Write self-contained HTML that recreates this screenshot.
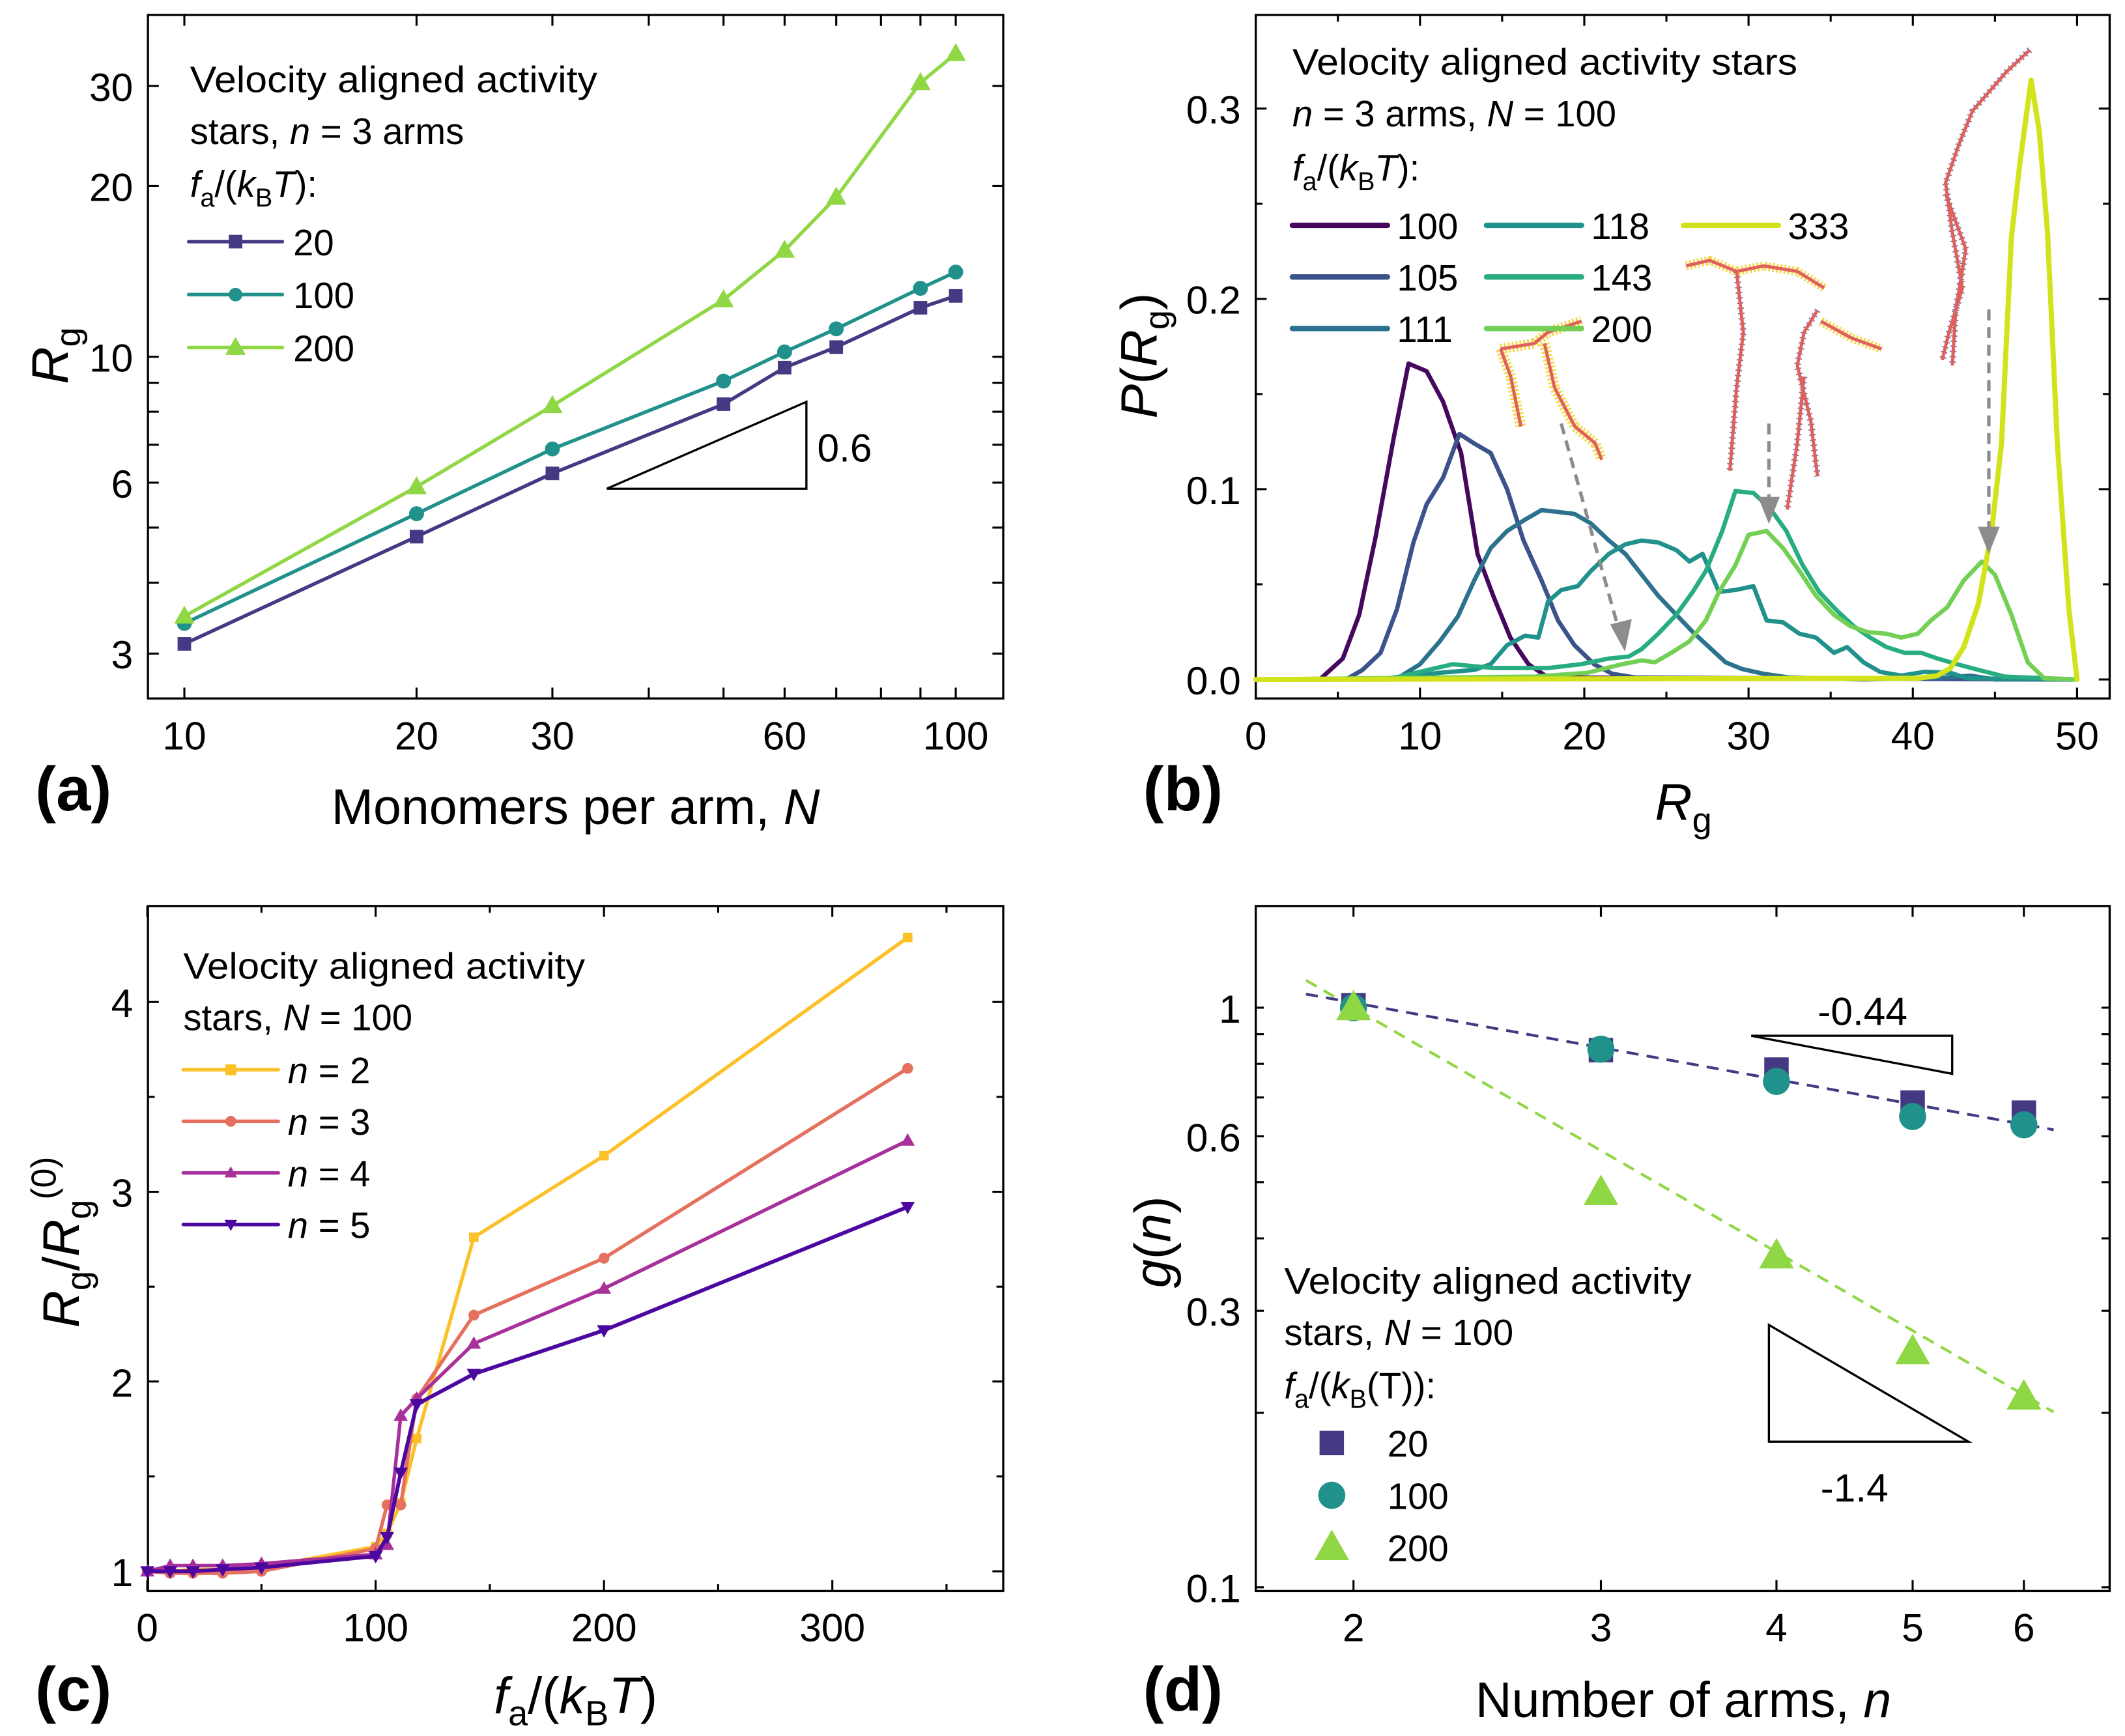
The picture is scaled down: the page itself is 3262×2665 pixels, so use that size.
<!DOCTYPE html>
<html><head><meta charset="utf-8"><style>
html,body{margin:0;padding:0;background:#fff;}
svg{display:block;font-family:"Liberation Sans",sans-serif;}
text{fill:#000;}
</style></head><body>
<svg id="fig" xmlns="http://www.w3.org/2000/svg" width="3262" height="2665" viewBox="0 0 1565.3 1278.8">
<rect x="0" y="0" width="1565.3" height="1278.8" fill="#fff"/>
<rect x="109" y="11" width="630" height="503.5" fill="none" stroke="#000" stroke-width="1.6"/>
<rect x="925" y="11" width="629" height="503.5" fill="none" stroke="#000" stroke-width="1.6"/>
<rect x="109" y="667.4" width="630" height="504.6" fill="none" stroke="#000" stroke-width="1.6"/>
<rect x="925" y="667.4" width="629" height="504.6" fill="none" stroke="#000" stroke-width="1.6"/>
<g id="ticks"></g>

<!-- Snapshots in panel b -->
<g transform="translate(782.6,0) scale(0.4966,0.408)" fill="none" stroke-linejoin="round">
<g stroke="#f2d530" stroke-dasharray="3 3" opacity="0.85">
<polyline vector-effect="non-scaling-stroke" stroke-width="16" points="650,630 665,680 680,770"/>
<polyline vector-effect="non-scaling-stroke" stroke-width="16" points="650,630 700,620 720,600 770,580"/>
<polyline vector-effect="non-scaling-stroke" stroke-width="16" points="715,620 730,700 760,770 790,800 800,830"/>
<polyline vector-effect="non-scaling-stroke" stroke-width="14" points="925,480 960,470 1000,490 1040,480 1090,490 1130,520"/>
<polyline vector-effect="non-scaling-stroke" stroke-width="14" points="1125,580 1170,610 1215,630"/>
</g>
<g stroke="#3b3f8f" stroke-dasharray="2 6" opacity="0.7">
<polyline vector-effect="non-scaling-stroke" stroke-width="10" points="1000,490 1010,600 1000,700 990,850"/>
<polyline vector-effect="non-scaling-stroke" stroke-width="10" points="1120,560 1100,600 1090,660 1110,760 1120,860"/>
<polyline vector-effect="non-scaling-stroke" stroke-width="10" points="1100,680 1090,800 1075,920"/>
<polyline vector-effect="non-scaling-stroke" stroke-width="10" points="1435,90 1400,130 1350,200 1330,260 1310,330 1320,420 1335,520 1315,600 1305,650"/>
<polyline vector-effect="non-scaling-stroke" stroke-width="10" points="1310,350 1340,450 1325,560 1320,660"/>
</g>
<g stroke="#e0605a">
<polyline vector-effect="non-scaling-stroke" stroke-width="5" points="650,630 665,680 680,770"/>
<polyline vector-effect="non-scaling-stroke" stroke-width="5" points="650,630 700,620 720,600 770,580"/>
<polyline vector-effect="non-scaling-stroke" stroke-width="5" points="715,620 730,700 760,770 790,800 800,830"/>
<polyline vector-effect="non-scaling-stroke" stroke-width="5" points="925,480 960,470 1000,490 1040,480 1090,490 1130,520"/>
<polyline vector-effect="non-scaling-stroke" stroke-width="5" points="1000,490 1010,600 1000,700 990,850"/>
<polyline vector-effect="non-scaling-stroke" stroke-width="5" points="1120,560 1100,600 1090,660 1110,760 1120,860"/>
<polyline vector-effect="non-scaling-stroke" stroke-width="5" points="1125,580 1170,610 1215,630"/>
<polyline vector-effect="non-scaling-stroke" stroke-width="5" points="1100,680 1090,800 1075,920"/>
<polyline vector-effect="non-scaling-stroke" stroke-width="5" points="1435,90 1400,130 1350,200 1330,260 1310,330 1320,420 1335,520 1315,600 1305,650"/>
<polyline vector-effect="non-scaling-stroke" stroke-width="5" points="1310,350 1340,450 1325,560 1320,660"/>
</g>
</g>

<g id="plots"></g>

<text x="26" y="597" font-size="46" font-weight="bold">(a)</text>
<text x="842" y="597" font-size="46" font-weight="bold">(b)</text>
<text x="26" y="1260" font-size="46" font-weight="bold">(c)</text>
<text x="842" y="1260" font-size="46" font-weight="bold">(d)</text>

<text x="424" y="607" font-size="37" text-anchor="middle">Monomers per arm, <tspan font-style="italic">N</tspan></text>
<text transform="translate(50,262) rotate(-90)" font-size="38" text-anchor="middle"><tspan font-style="italic">R</tspan><tspan font-size="26" dy="9">g</tspan></text>
<text x="1240" y="604" font-size="38" text-anchor="middle"><tspan font-style="italic">R</tspan><tspan font-size="26" dy="9">g</tspan></text>
<text transform="translate(852,262) rotate(-90)" font-size="38" text-anchor="middle"><tspan font-style="italic">P</tspan>(<tspan font-style="italic">R</tspan><tspan font-size="26" dy="9">g</tspan><tspan dy="-9">)</tspan></text>
<text x="424" y="1262" font-size="38" text-anchor="middle"><tspan font-style="italic">f</tspan><tspan font-size="26" dy="9">a</tspan><tspan dy="-9">/(</tspan><tspan font-style="italic">k</tspan><tspan font-size="26" dy="9">B</tspan><tspan dy="-9" font-style="italic">T</tspan>)</text>
<text transform="translate(58,915) rotate(-90)" font-size="38" text-anchor="middle"><tspan font-style="italic">R</tspan><tspan font-size="26" dy="9">g</tspan><tspan dy="-9">/</tspan><tspan font-style="italic">R</tspan><tspan font-size="26" dy="9">g</tspan><tspan font-size="26" dy="-26">(0)</tspan></text>
<text x="1240" y="1265" font-size="37" text-anchor="middle">Number of arms, <tspan font-style="italic">n</tspan></text>
<text transform="translate(862,915) rotate(-90)" font-size="38" text-anchor="middle"><tspan font-style="italic">g</tspan>(<tspan font-style="italic">n</tspan>)</text>

<g font-size="27">
<text x="140" y="68" textLength="300" lengthAdjust="spacingAndGlyphs">Velocity aligned activity</text>
<text x="140" y="106">stars, <tspan font-style="italic">n</tspan> = 3 arms</text>
<text x="140" y="145"><tspan font-style="italic">f</tspan><tspan font-size="19" dy="7">a</tspan><tspan dy="-7">/(</tspan><tspan font-style="italic">k</tspan><tspan font-size="19" dy="7">B</tspan><tspan dy="-7" font-style="italic">T</tspan>):</text>
</g>
<g font-size="27">
<text x="952" y="55" textLength="372" lengthAdjust="spacingAndGlyphs">Velocity aligned activity stars</text>
<text x="952" y="93"><tspan font-style="italic">n</tspan> = 3 arms, <tspan font-style="italic">N</tspan> = 100</text>
<text x="952" y="133"><tspan font-style="italic">f</tspan><tspan font-size="19" dy="7">a</tspan><tspan dy="-7">/(</tspan><tspan font-style="italic">k</tspan><tspan font-size="19" dy="7">B</tspan><tspan dy="-7" font-style="italic">T</tspan>):</text>
</g>
<g font-size="27">
<text x="135" y="721" textLength="296" lengthAdjust="spacingAndGlyphs">Velocity aligned activity</text>
<text x="135" y="759">stars, <tspan font-style="italic">N</tspan> = 100</text>
</g>
<g font-size="27">
<text x="946" y="953" textLength="300" lengthAdjust="spacingAndGlyphs">Velocity aligned activity</text>
<text x="946" y="991">stars, <tspan font-style="italic">N</tspan> = 100</text>
<text x="946" y="1030"><tspan font-style="italic">f</tspan><tspan font-size="19" dy="7">a</tspan><tspan dy="-7">/(</tspan><tspan font-style="italic">k</tspan><tspan font-size="19" dy="7">B</tspan><tspan dy="-7">(T)):</tspan></text>
</g>

<polygon points="447,360 594,360 594,296" fill="none" stroke="#000" stroke-width="1.6"/>
<text x="602" y="340" font-size="29">0.6</text>
<polygon points="1290,763 1438,763 1438,791" fill="none" stroke="#000" stroke-width="1.6"/>
<text x="1372" y="755" font-size="29" text-anchor="middle">-0.44</text>
<polygon points="1303,976 1303,1062 1450,1062" fill="none" stroke="#000" stroke-width="1.6"/>
<text x="1366" y="1106" font-size="29" text-anchor="middle">-1.4</text>

<g stroke="#8c8c8c" stroke-width="2.5" stroke-dasharray="8 5">
<line x1="1150" y1="312" x2="1193" y2="466"/>
<line x1="1303" y1="312" x2="1303" y2="372"/>
<line x1="1465" y1="228" x2="1465" y2="394"/>
</g>
<g fill="#8c8c8c">
<polygon points="1197,480 1186,460 1202,456"/>
<polygon points="1303,386 1295,366 1311,366"/>
<polygon points="1465,408 1457,388 1473,388"/>
</g>
</svg>
<script>
const aN = [10, 20, 30, 50, 60, 70, 90, 100];
const aRg20 = [3.12, 4.82, 6.23, 8.25, 9.57, 10.4, 12.2, 12.8];
const aRg100 = [3.39, 5.29, 6.88, 9.06, 10.2, 11.2, 13.2, 14.1];
const aRg200 = [3.49, 5.90, 8.2, 12.6, 15.4, 19.1, 30.4, 34.2];
const aLegendLabels = ['20', '100', '200'];
const aXTicks = [10, 20, 30, 40, 50, 60, 70, 80, 90, 100];
const aXLabels = [10, 20, 30, 60, 100];
const aYTicks = [3, 4, 5, 6, 7, 8, 9, 10, 20, 30];
const aYLabels = [3, 6, 10, 20, 30];

const bR100 = [0, 3.9, 5.3, 6.3, 7.3, 8.4, 9.3, 10.4, 11.4, 12.5, 13.5, 14.5, 15.5, 16.6, 17.8, 50];
const bP100 = [0, 0, 0.011, 0.034, 0.075, 0.127, 0.166, 0.162, 0.146, 0.119, 0.066, 0.043, 0.022, 0.008, 0.001, 0];
const bR105 = [0, 5.5, 6.5, 7.6, 8.6, 9.6, 10.4, 11.4, 12.4, 13.3, 14.3, 15.3, 16.3, 17.4, 18.4, 19.4, 20.6, 21.7, 23.1, 50];
const bP105 = [0, 0, 0.005, 0.014, 0.037, 0.072, 0.092, 0.106, 0.129, 0.124, 0.119, 0.1, 0.073, 0.052, 0.031, 0.018, 0.008, 0.003, 0.001, 0];
const bR111 = [0, 7.6, 8.8, 10, 11.2, 12.3, 13.3, 14.3, 15.3, 16.4, 17.4, 18.4, 19.4, 20.4, 21.5, 22.5, 23.5, 24.5, 25.6, 26.6, 27.6, 28.6, 29.6, 30.9, 32.5, 37, 42, 43.5, 45, 50];
const bP111 = [0, 0, 0.0015, 0.008, 0.02, 0.033, 0.052, 0.069, 0.078, 0.084, 0.089, 0.088, 0.087, 0.082, 0.073, 0.066, 0.055, 0.044, 0.034, 0.025, 0.017, 0.009, 0.0055, 0.003, 0.001, 0, 0.001, 0.002, 0, 0];
const bR118 = [0, 8, 11.2, 13.3, 14.3, 15.3, 16.4, 17.2, 17.8, 18.6, 19.6, 20.4, 21.5, 22.5, 23.5, 24.5, 25.6, 26.4, 27.2, 28.2, 29.2, 30.3, 31.1, 32.1, 33.1, 34.1, 35.2, 36, 37, 38, 39.3, 40.7, 42.3, 43.3, 50];
const bP118 = [0, 0.0006, 0.0035, 0.005, 0.008, 0.018, 0.023, 0.022, 0.041, 0.047, 0.049, 0.057, 0.066, 0.071, 0.073, 0.072, 0.068, 0.062, 0.066, 0.046, 0.047, 0.049, 0.031, 0.030, 0.024, 0.022, 0.014, 0.017, 0.009, 0.004, 0.002, 0.004, 0.0035, 0.0006, 0];
const bR143 = [0, 8, 12, 14.5, 17.8, 19.8, 21.5, 22.7, 23.5, 24.5, 25.6, 26.6, 27.4, 28.4, 29.2, 30.3, 31.3, 32.3, 33.3, 34.3, 35.4, 36.4, 37.4, 38.4, 39.5, 40.5, 41.5, 42.7, 44, 45.6, 50];
const bP143 = [0, 0, 0.008, 0.006, 0.006, 0.008, 0.011, 0.012, 0.016, 0.024, 0.034, 0.046, 0.057, 0.078, 0.099, 0.098, 0.09, 0.078, 0.06, 0.046, 0.036, 0.028, 0.022, 0.017, 0.014, 0.014, 0.011, 0.008, 0.005, 0.0015, 0];
const bR200 = [0, 17, 20.2, 22.3, 23.5, 24.3, 25.3, 26.4, 27.4, 28.2, 29.2, 30, 31.1, 32.1, 33.1, 34.1, 35.2, 36.2, 37.2, 38.4, 39.3, 40.3, 41.1, 42.1, 43.1, 44.2, 45, 46, 47, 48, 50];
const bP200 = [0, 0.0015, 0.0035, 0.008, 0.010, 0.009, 0.014, 0.02, 0.031, 0.046, 0.06, 0.076, 0.078, 0.069, 0.057, 0.044, 0.034, 0.028, 0.025, 0.024, 0.022, 0.024, 0.031, 0.038, 0.052, 0.062, 0.055, 0.034, 0.009, 0.0006, 0];
const bR333 = [0, 40.3, 41.5, 42.3, 43.1, 44, 44.8, 45.4, 46, 46.5, 47.2, 47.7, 48.2, 48.8, 49.5, 50];
const bP333 = [0, 0.0006, 0.002, 0.006, 0.017, 0.04, 0.078, 0.124, 0.232, 0.27, 0.315, 0.288, 0.235, 0.124, 0.037, 0];
const bLegendLabels = ['100', '105', '111', '118', '143', '200', '333'];
const bXTicks = [0, 10, 20, 30, 40, 50];
const bXMinor = [5, 15, 25, 35, 45];
const bYTicks = [0, 0.1, 0.2, 0.3];
const bYMinor = [0.05, 0.15, 0.25];
const bYLabels = ['0.0', '0.1', '0.2', '0.3'];

const cF = [0, 10, 20, 33, 50, 100, 105, 111, 118, 143, 200, 333];
const cN2 = [1.0, 1.0, 1.01, 1.01, 1.02, 1.13, 1.2, 1.36, 1.70, 2.76, 3.19, 4.34];
const cN3 = [1.0, 0.99, 0.99, 0.99, 1.0, 1.12, 1.35, 1.35, 1.91, 2.35, 2.65, 3.65];
const cN4 = [1.0, 1.03, 1.03, 1.03, 1.04, 1.09, 1.14, 1.82, 1.91, 2.2, 2.49, 3.27];
const cN5 = [1.0, 1.0, 1.0, 1.01, 1.02, 1.08, 1.18, 1.52, 1.88, 2.04, 2.27, 2.92];
const cLegendLabels = ['2', '3', '4', '5'];
const cXTicks = [0, 100, 200, 300];
const cXMinor = [50, 150, 250, 350];
const cYTicks = [1, 2, 3, 4];
const cYMinor = [1.5, 2.5, 3.5];

const dN = [2, 3, 4, 5, 6];
const dG20 = [1.01, 0.845, 0.782, 0.686, 0.659];
const dG100 = [1.0, 0.848, 0.746, 0.649, 0.628];
const dG200 = [1.0, 0.48, 0.373, 0.255, 0.213];
const dFitRange = [1.85, 6.3];
const dFitSlope = [-0.44, -1.4];
const dFitAmp = [1.02, 1.0];
const dLegendLabels = ['20', '100', '200'];
const dXTicks = [2, 3, 4, 5, 6];
const dYTicks = [0.1, 0.2, 0.3, 0.4, 0.5, 0.6, 0.7, 0.8, 0.9, 1];
const dYLabels = [0.1, 0.3, 0.6, 1];

const xa = v => 135.8 + 568.2 * Math.log10(v / 10);
const ya = v => 262.8 - 418.1 * Math.log10(v / 10);
const xb = v => 925 + 12.1 * v;
const yb = v => 500.5 - 1401.7 * v;
const xc = v => 108.5 + 1.682 * v;
const yc = v => 1157.5 - 139.8 * (v - 1);
const xd = v => 997 + 1035 * Math.log10(v / 2);
const yd = v => 742.3 - 427 * Math.log10(v);

const NS = 'http://www.w3.org/2000/svg';
const ticksG = document.getElementById('ticks');
const plotsG = document.getElementById('plots');
function mk(tag, parent) { const e = document.createElementNS(NS, tag); parent.appendChild(e); return e; }
function set(e, o) { for (const k in o) e.setAttribute(k, o[k]); return e; }

function xTick(x, top, bottom, len, name) {
  const l1 = mk('line', ticksG);
  set(l1, {x1: x, x2: x, y1: bottom, y2: bottom - len, stroke: '#000', 'stroke-width': 1.5});
  
  
  const l2 = mk('line', ticksG);
  set(l2, {x1: x, x2: x, y1: top, y2: top + len, stroke: '#000', 'stroke-width': 1.5});
  
  
}
function yTick(y, left, right, len, name) {
  const l1 = mk('line', ticksG);
  set(l1, {x1: left, x2: left + len, y1: y, y2: y, stroke: '#000', 'stroke-width': 1.5});
  
  
  const l2 = mk('line', ticksG);
  set(l2, {x1: right, x2: right - len, y1: y, y2: y, stroke: '#000', 'stroke-width': 1.5});
  
  
}
function label(x, y, txt, anchor, name, size) {
  const t = mk('text', ticksG);
  set(t, {x: x, y: y, 'text-anchor': anchor, 'font-size': size || 29});
  t.textContent = txt;
  
  
  return t;
}

aXTicks.forEach(v => xTick(xa(v), 11, 514.5, 8, 'a-x-tick'));
aXLabels.forEach(v => label(xa(v), 552, String(v), 'middle', 'a-x-tick-label'));
aYTicks.forEach(v => yTick(ya(v), 109, 739, 8, 'a-y-tick'));
aYLabels.forEach(v => label(98, ya(v) + 11, String(v), 'end', 'a-y-tick-label'));
bXTicks.forEach(v => xTick(xb(v), 11, 514.5, 8, 'b-x-tick'));
bXMinor.forEach(v => xTick(xb(v), 11, 514.5, 5, 'b-x-minor-tick'));
bXTicks.forEach(v => label(xb(v), 552, String(v), 'middle', 'b-x-tick-label'));
bYTicks.forEach(v => yTick(yb(v), 925, 1554, 8, 'b-y-tick'));
bYMinor.forEach(v => yTick(yb(v), 925, 1554, 5, 'b-y-minor-tick'));
bYTicks.forEach((v, i) => label(914, yb(v) + 11, bYLabels[i], 'end', 'b-y-tick-label'));
cXTicks.forEach(v => xTick(xc(v), 667.4, 1172, 8, 'c-x-tick'));
cXMinor.forEach(v => xTick(xc(v), 667.4, 1172, 5, 'c-x-minor-tick'));
cXTicks.forEach(v => label(xc(v), 1209, String(v), 'middle', 'c-x-tick-label'));
cYTicks.forEach(v => yTick(yc(v), 109, 739, 8, 'c-y-tick'));
cYMinor.forEach(v => yTick(yc(v), 109, 739, 5, 'c-y-minor-tick'));
cYTicks.forEach(v => label(98, yc(v) + 11, String(v), 'end', 'c-y-tick-label'));
dXTicks.forEach(v => xTick(xd(v), 667.4, 1172, 8, 'd-x-tick'));
dXTicks.forEach(v => label(xd(v), 1209, String(v), 'middle', 'd-x-tick-label'));
dYTicks.forEach(v => yTick(yd(v), 925, 1554, 6, 'd-y-tick'));
dYLabels.forEach(v => label(914, yd(v) + 11, String(v), 'end', 'd-y-tick-label'));

function marker(shape, x, y, s, color, parent) {
  let e;
  if (shape === 'square') { e = mk('rect', parent); set(e, {x: x - s / 2, y: y - s / 2, width: s, height: s, fill: color}); }
  else if (shape === 'circle') { e = mk('circle', parent); set(e, {cx: x, cy: y, r: s / 2, fill: color}); }
  else if (shape === 'tri') { e = mk('polygon', parent); set(e, {points: `${x},${y - s * 0.6} ${x - s * 0.58},${y + s * 0.42} ${x + s * 0.58},${y + s * 0.42}`, fill: color}); }
  else { e = mk('polygon', parent); set(e, {points: `${x},${y + s * 0.6} ${x - s * 0.58},${y - s * 0.42} ${x + s * 0.58},${y - s * 0.42}`, fill: color}); }
  return e;
}
function series(xs, ys, fx, fy, color, width, shape, msize, name) {
  const g = mk('g', plotsG);
  
  
  const p = mk('polyline', g);
  set(p, {points: xs.map((x, i) => fx(x) + ',' + fy(ys[i])).join(' '), fill: 'none', stroke: color, 'stroke-width': width, 'stroke-linejoin': 'round', 'stroke-linecap': 'round'});
  
  
  if (shape) xs.forEach((x, i) => {
    const m = marker(shape, fx(x), fy(ys[i]), msize, color, g);
    
    
  });
}
function legendRow(x1, x2, y, color, width, shape, msize, txt, tx, italicN) {
  const g = mk('g', plotsG);
  
  
  const l = mk('line', g);
  set(l, {x1: x1, x2: x2, y1: y, y2: y, stroke: color, 'stroke-width': width, 'stroke-linecap': 'round'});
  if (shape) marker(shape, (x1 + x2) / 2, y, msize, color, g);
  const t = mk('text', g);
  set(t, {x: tx, y: y + 10, 'font-size': 27});
  if (italicN) { t.innerHTML = '<tspan font-style="italic">n</tspan> = ' + txt; } else t.textContent = txt;
}

const aCols = ['#443a83', '#21918c', '#8fd744'];
series(aN, aRg20, xa, ya, aCols[0], 2.6, 'square', 10, 'a-series-20');
series(aN, aRg100, xa, ya, aCols[1], 2.6, 'circle', 11, 'a-series-100');
series(aN, aRg200, xa, ya, aCols[2], 2.6, 'tri', 13, 'a-series-200');
['square', 'circle', 'tri'].forEach((s, i) => legendRow(139, 208, 178 + 39 * i, aCols[i], 2.6, s, s === 'tri' ? 13 : 10, aLegendLabels[i], 216));

const bCols = ['#46085c', '#3b528b', '#2c728e', '#21918c', '#27ad81', '#73d055', '#d2e21b'];
const bRs = [bR100, bR105, bR111, bR118, bR143, bR200, bR333];
const bPs = [bP100, bP105, bP111, bP118, bP143, bP200, bP333];
[0, 1, 2, 3, 4, 5, 6].forEach(i => series(bRs[i], bPs[i], xb, yb, bCols[i], i === 6 ? 3.8 : 3.2, null, 0, 'b-curve-' + bLegendLabels[i]));
const bLegX = [952, 1095, 1240];
const bLegY = [166, 204, 242];
bLegendLabels.forEach((lab, i) => {
  const col = Math.floor(i / 3), row = i % 3;
  legendRow(bLegX[col], bLegX[col] + 70, bLegY[row], bCols[i], 4, null, 0, lab, bLegX[col] + 77);
});

const cCols = ['#fcc028', '#e6705e', '#a8309b', '#4c07a0'];
series(cF, cN2, xc, yc, cCols[0], 2.6, 'square', 7, 'c-series-n2');
series(cF, cN3, xc, yc, cCols[1], 2.6, 'circle', 8, 'c-series-n3');
series(cF, cN4, xc, yc, cCols[2], 2.6, 'tri', 9, 'c-series-n4');
series(cF, cN5, xc, yc, cCols[3], 2.8, 'tridown', 9, 'c-series-n5');
['square', 'circle', 'tri', 'tridown'].forEach((s, i) => legendRow(135, 205, 788 + 38 * i, cCols[i], 2.6, s, 8, cLegendLabels[i], 212, true));

const dCols = ['#443a83', '#21918c', '#8fd744'];
[0, 1].forEach(k => {
  const xs = dFitRange;
  const ys = xs.map(n => dFitAmp[k] * Math.pow(n / 2, dFitSlope[k]));
  const l = mk('polyline', plotsG);
  set(l, {points: xs.map((x, i) => xd(x) + ',' + yd(ys[i])).join(' '), fill: 'none', stroke: k === 0 ? dCols[0] : dCols[2], 'stroke-width': 2, 'stroke-dasharray': '9 6'});
  
  
});
[[dG20, 'square', 18], [dG100, 'circle', 20], [dG200, 'tri', 22]].forEach((s, k) => {
  const g = mk('g', plotsG);
  
  
  dN.forEach((n, i) => {
    const m = marker(s[1], xd(n), yd(s[0][i]), s[2], dCols[k], g);
    
    
  });
  const lm = marker(s[1], 981, 1063 + 38.5 * k, s[2], dCols[k], g);
  
  
  const t = mk('text', g);
  set(t, {x: 1022, y: 1073 + 38.5 * k, 'font-size': 27});
  t.textContent = dLegendLabels[k];
  
  
});
</script>
</body></html>
